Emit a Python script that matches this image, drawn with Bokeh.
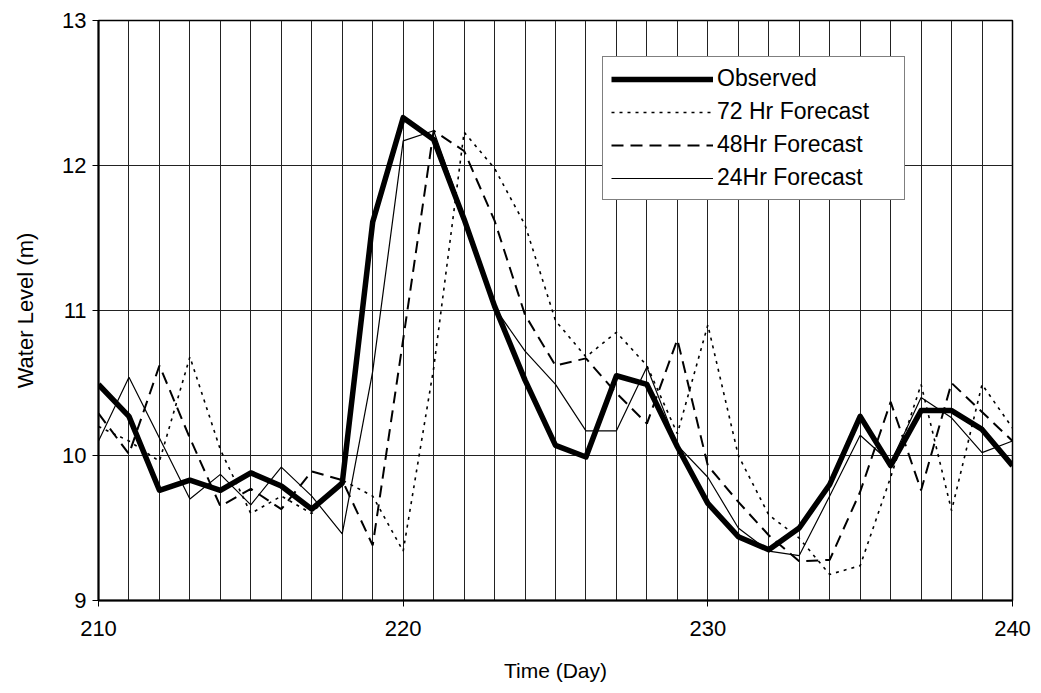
from bokeh.plotting import figure
from bokeh.models import Range1d, FixedTicker, Legend, LegendItem
from bokeh.embed import file_html
from bokeh.resources import INLINE

days = list(range(210, 241))
observed = [10.49, 10.27, 9.76, 9.83, 9.76, 9.88, 9.79, 9.63, 9.81, 11.61, 12.33,
            12.18, 11.63, 11.03, 10.52, 10.07, 9.99, 10.55, 10.49, 10.06, 9.67,
            9.44, 9.35, 9.50, 9.80, 10.27, 9.93, 10.31, 10.31, 10.18, 9.93]
f72 = [10.2, 10.1, 9.96, 10.68, 10.04, 9.6, 9.72, 9.6, 9.83, 9.72, 9.34,
       10.6, 12.23, 11.98, 11.59, 10.93, 10.68, 10.85, 10.62, 10.15, 10.9,
       10.0, 9.59, 9.43, 9.18, 9.24, 9.85, 10.49, 9.62, 10.49, 10.19]
f48 = [10.29, 10.01, 10.62, 10.12, 9.65, 9.77, 9.63, 9.89, 9.83, 9.38, 10.8,
       12.24, 12.1, 11.62, 10.97, 10.62, 10.67, 10.43, 10.22, 10.8, 9.93,
       9.68, 9.45, 9.27, 9.28, 9.75, 10.37, 9.76, 10.5, 10.3, 10.1]
f24 = [10.1, 10.54, 10.12, 9.7, 9.87, 9.66, 9.92, 9.72, 9.46, 10.58, 12.17,
       12.24, 11.65, 11.02, 10.72, 10.49, 10.17, 10.17, 10.61, 10.07, 9.85,
       9.5, 9.34, 9.31, 9.72, 10.14, 9.95, 10.4, 10.26, 10.02, 10.1]
labels = ["Observed", "72 Hr Forecast", "48Hr Forecast", "24Hr Forecast"]
x_ticks = [210, 220, 230, 240]
y_ticks = [9, 10, 11, 12, 13]

FONT = "Liberation Sans"

p = figure(width=1033, height=685, output_backend="svg", toolbar_location=None,
           x_range=Range1d(210, 240), y_range=Range1d(9, 13),
           min_border_left=98, min_border_right=21, min_border_top=20,
           min_border_bottom=85)

p.outline_line_color = "black"
p.outline_line_width = 1.5

# axes
p.xaxis.ticker = FixedTicker(ticks=x_ticks, minor_ticks=list(range(210, 241)))
p.yaxis.ticker = FixedTicker(ticks=y_ticks)
for ax in (p.xaxis, p.yaxis):
    ax.axis_line_color = "black"
    ax.axis_line_width = 2
    ax.major_tick_line_color = "black"
    ax.major_tick_in = 0
    ax.major_tick_out = 6
    ax.minor_tick_in = 0
    ax.minor_tick_out = 0
    ax.major_label_text_font = FONT
    ax.major_label_text_font_size = "22px"
    ax.major_label_text_color = "black"
    ax.axis_label_text_font = FONT
    ax.axis_label_text_font_style = "normal"
    ax.axis_label_text_color = "black"
p.xaxis.axis_label_text_font_size = "21px"
p.yaxis.axis_label_text_font_size = "22px"
p.xaxis.axis_label = "Time (Day)"
p.yaxis.axis_label = "Water Level (m)"
p.xaxis.major_label_standoff = 14
p.yaxis.major_label_standoff = 6
p.xaxis.axis_label_standoff = 20
p.yaxis.axis_label_standoff = 21

# grids
p.xgrid.grid_line_color = "#222222"
p.xgrid.grid_line_width = 1
p.xgrid.minor_grid_line_color = "#222222"
p.xgrid.minor_grid_line_width = 1
p.ygrid.grid_line_color = "#222222"
p.ygrid.grid_line_width = 1

r_obs = p.line(days, observed, line_color="black", line_width=5.5, line_join="round")
r72 = p.line(days, f72, line_color="black", line_width=1.6, line_dash="3 5")
r48 = p.line(days, f48, line_color="black", line_width=2, line_dash="12 7")
r24 = p.line(days, f24, line_color="black", line_width=1.2)

legend = Legend(items=[LegendItem(label=labels[0], renderers=[r_obs]),
                       LegendItem(label=labels[1], renderers=[r72]),
                       LegendItem(label=labels[2], renderers=[r48]),
                       LegendItem(label=labels[3], renderers=[r24])],
                location=(504, 400))
legend.border_line_color = "black"
legend.border_line_width = 1.2
legend.background_fill_color = "white"
legend.background_fill_alpha = 1
legend.label_text_font = FONT
legend.label_text_font_size = "23px"
legend.label_text_color = "black"
legend.glyph_width = 102
legend.glyph_height = 22
legend.label_height = 22
legend.label_width = 179
legend.label_standoff = 4
legend.spacing = 6
legend.padding = 8
legend.margin = 0
p.add_layout(legend, "center")

open("out.html", "w").write(file_html(p, INLINE))
